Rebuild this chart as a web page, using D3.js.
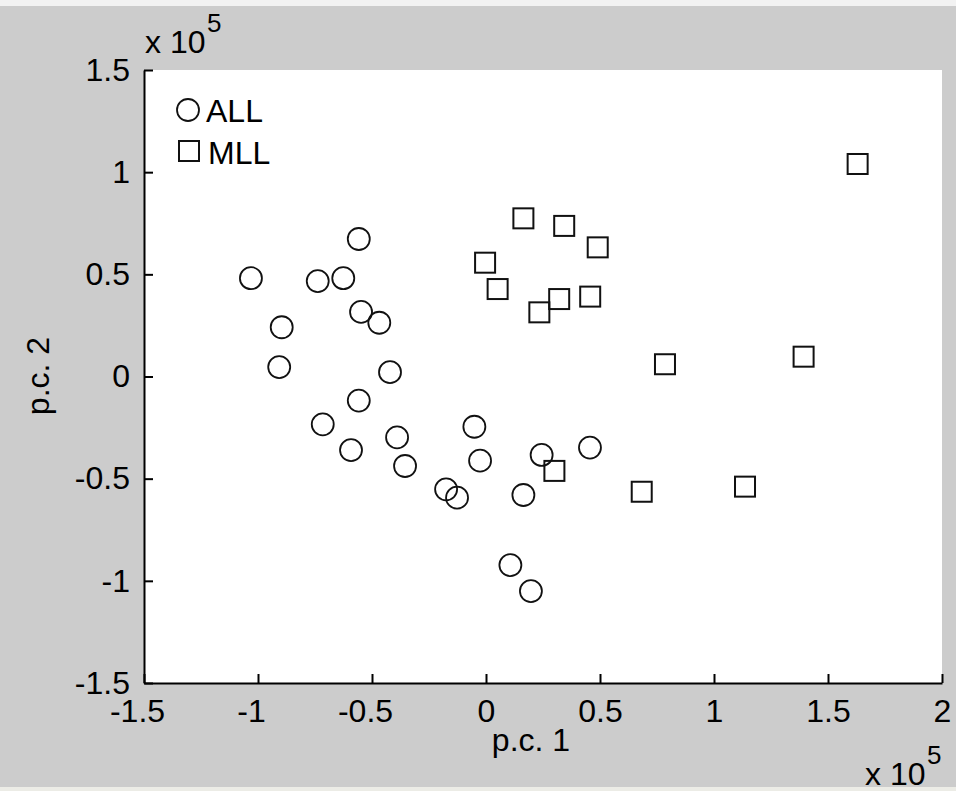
<!DOCTYPE html>
<html>
<head>
<meta charset="utf-8">
<script src="https://cdn.jsdelivr.net/npm/d3@7"></script>
<style>
  html, body { margin: 0; padding: 0; background: #cccccc; }
  svg { display: block; }
  text { font-family: "Liberation Sans", Arial, sans-serif; fill: #000; }
</style>
</head>
<body>
<script>
// Data (units of 1e5)
const allX = [-1.031, -0.896, -0.907, -0.738, -0.626, -0.558, -0.548, -0.468, -0.421, -0.558, -0.716, -0.592, -0.390, -0.355, -0.051, -0.026, -0.175, -0.127, 0.164, 0.244, 0.456, 0.107, 0.197];
const allY = [0.481, 0.241, 0.046, 0.467, 0.481, 0.673, 0.316, 0.263, 0.021, -0.118, -0.234, -0.360, -0.298, -0.438, -0.246, -0.412, -0.552, -0.593, -0.580, -0.384, -0.348, -0.923, -1.050];
const mllX = [0.164, 0.343, 0.490, -0.004, 0.051, 0.321, 0.457, 0.234, 0.300, 0.785, 1.393, 0.683, 1.136, 1.630];
const mllY = [0.774, 0.737, 0.632, 0.557, 0.428, 0.379, 0.391, 0.314, -0.462, 0.060, 0.097, -0.564, -0.539, 1.040];
const xTicks = [-1.5, -1, -0.5, 0, 0.5, 1, 1.5, 2];
const yTicks = [-1.5, -1, -0.5, 0, 0.5, 1, 1.5];
const seriesNames = ["ALL", "MLL"];

const W = 956, H = 791;
const svg = d3.select("body").append("svg").attr("width", W).attr("height", H);

// window strips
svg.append("rect").attr("x", 0).attr("y", 0).attr("width", W).attr("height", H).attr("fill", "#cccccc");
svg.append("rect").attr("x", 0).attr("y", 0).attr("width", W).attr("height", 6).attr("fill", "#f2f2f2");
svg.append("rect").attr("x", 0).attr("y", 787).attr("width", W).attr("height", 4).attr("fill", "#ecece6");

const x = d3.scaleLinear().domain([-1.5, 2]).range([144, 942]);
const y = d3.scaleLinear().domain([-1.5, 1.5]).range([683, 70]);

// plot area
svg.append("rect")
  .attr("x", x(-1.5)).attr("y", y(1.5))
  .attr("width", x(2) - x(-1.5)).attr("height", y(-1.5) - y(1.5))
  .attr("fill", "#ffffff");

const fmt = d => String(d);

const xAxis = d3.axisBottom(x).tickValues(xTicks).tickFormat(fmt)
  .tickSizeInner(-9).tickSizeOuter(0).tickPadding(16);
const yAxis = d3.axisLeft(y).tickValues(yTicks).tickFormat(fmt)
  .tickSizeInner(-9).tickSizeOuter(0).tickPadding(14);

const gx = svg.append("g").attr("transform", `translate(0,${y(-1.5)})`).call(xAxis);
const gy = svg.append("g").attr("transform", `translate(${x(-1.5)},0)`).call(yAxis);

[gx, gy].forEach(g => {
  g.select(".domain").attr("stroke", "#000").attr("stroke-width", 2);
  g.selectAll(".tick line").attr("stroke", "#000").attr("stroke-width", 2);
  g.selectAll(".tick text").attr("font-size", 32)
    .attr("font-family", "'Liberation Sans', Arial, sans-serif").attr("fill", "#000");
});
gx.selectAll(".tick text").attr("dx", d => d < 0 ? -7 : 0);

// exponent labels
const topExp = svg.append("text").attr("x", 145).attr("y", 53).attr("font-size", 32);
topExp.append("tspan").text("x 10");
svg.append("text").attr("x", 207).attr("y", 32).attr("font-size", 26).text("5");

svg.append("text").attr("x", 865).attr("y", 785).attr("font-size", 32).text("x 10");
svg.append("text").attr("x", 927).attr("y", 764).attr("font-size", 26).text("5");

// axis labels
svg.append("text").attr("x", 531).attr("y", 751).attr("text-anchor", "middle")
  .attr("font-size", 32).text("p.c. 1");
svg.append("text").attr("transform", "translate(49,376) rotate(-90)")
  .attr("text-anchor", "middle").attr("font-size", 32).text("p.c. 2");

// markers
const allData = allX.map((v, i) => ({x: v, y: allY[i]}));
const mllData = mllX.map((v, i) => ({x: v, y: mllY[i]}));

const R = 11, S = 20;
svg.append("g").selectAll("circle").data(allData).join("circle")
  .attr("cx", d => x(d.x)).attr("cy", d => y(d.y)).attr("r", R)
  .attr("fill", "none").attr("stroke", "#111").attr("stroke-width", 1.8);

svg.append("g").selectAll("rect").data(mllData).join("rect")
  .attr("x", d => x(d.x) - S / 2).attr("y", d => y(d.y) - S / 2)
  .attr("width", S).attr("height", S)
  .attr("fill", "none").attr("stroke", "#111").attr("stroke-width", 2);

// legend
const lg = svg.append("g");
lg.append("circle").attr("cx", 188).attr("cy", 110).attr("r", R)
  .attr("fill", "none").attr("stroke", "#111").attr("stroke-width", 1.8);
lg.append("text").attr("x", 206).attr("y", 122).attr("font-size", 32).text(seriesNames[0]);
lg.append("rect").attr("x", 189 - S / 2).attr("y", 151 - S / 2).attr("width", S).attr("height", S)
  .attr("fill", "none").attr("stroke", "#111").attr("stroke-width", 2);
lg.append("text").attr("x", 208).attr("y", 164).attr("font-size", 32).text(seriesNames[1]);
</script>
</body>
</html>
